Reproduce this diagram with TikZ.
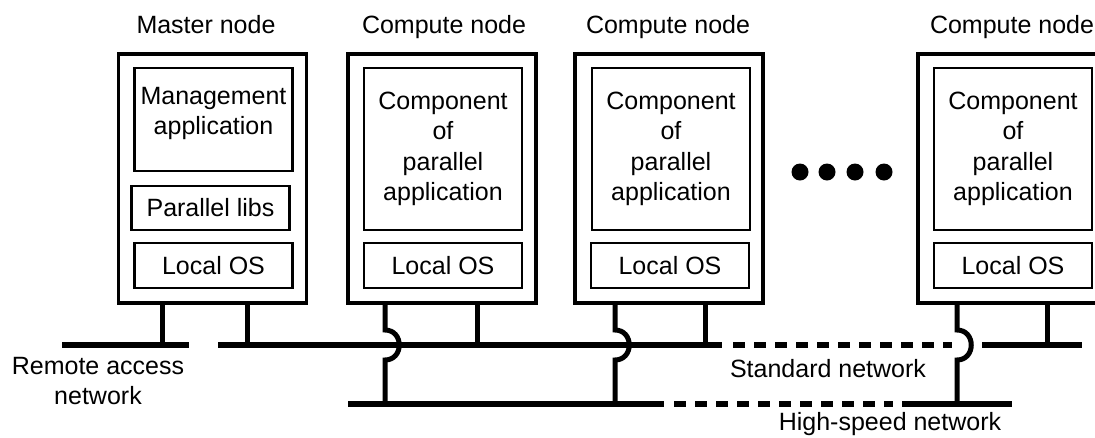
\documentclass[tikz,border=0pt]{standalone}
\usepackage{fontspec}
\setmainfont{Liberation Sans}

\begin{document}
\begin{tikzpicture}[x=1pt, y=-1pt,
		font=\fontsize{25}{30.5}\selectfont,
		machine/.style={draw, line width=3.5pt, minimum width=188pt, minimum height=249pt, inner sep=0pt},
		inbox/.style={draw, line width=2.5pt, minimum width=158pt, inner sep=0pt, align=center},
		toplbl/.style={anchor=base},
		net/.style={line width=6pt},
		dashnet/.style={line width=6pt, dash pattern=on 12pt off 9pt},
		stub/.style={line width=5pt},
		bigdot/.style={circle, fill, inner sep=0pt, minimum size=17pt}
		]
	\useasboundingbox (0,0) rectangle (1095,437);
	% the four machines
	\node [machine] (m) at (212.5,178.5) {};
	\node [machine] (c1) at (442,178.5) {};
	\node [machine] (c2) at (669,178.5) {};
	\node [machine] (c3) at (1012,178.5) {};
	\node [toplbl] (mlbl) at (206,33) {Master node};
	\node [toplbl] (c1lbl) at (444,33) {Compute node};
	\node [toplbl] (c2lbl) at (668,33) {Compute node};
	\node [toplbl] (c3lbl) at (1012,33) {Compute node};
	% master node layers
	\node [inbox, minimum height=103pt] (mgmt) at (213.5,119.5) {};
	\node [align=center] (mgmtlbl) at (213.5,113.5) {Management\\application};
	\node [inbox, minimum height=44pt] (libs) at (210.5,208) {Parallel libs};
	\node [inbox, minimum height=45pt] (mos) at (213.5,265.5) {Local OS};
	% compute node layers
	\node [inbox, minimum height=162pt] (c1app) at (443,149) {Component\\of\\parallel\\application};
	\node [inbox, minimum height=45pt] (c1os) at (443,265.5) {Local OS};
	\node [inbox, minimum height=162pt] (c2app) at (671,149) {Component\\of\\parallel\\application};
	\node [inbox, minimum height=45pt] (c2os) at (670,265.5) {Local OS};
	\node [inbox, minimum height=162pt] (c3app) at (1013,149) {Component\\of\\parallel\\application};
	\node [inbox, minimum height=45pt] (c3os) at (1013,265.5) {Local OS};
	\node [bigdot] (d1) at (800,172) {};
	\node [bigdot] (d2) at (827,172) {};
	\node [bigdot] (d3) at (855,172) {};
	\node [bigdot] (d4) at (884,172) {};
	% networks
	\draw [net] (62,345) coordinate (ra) -- (189,345);
	\draw [net] (218,345) coordinate (std) -- (722,345);
	\draw [dashnet] (733,345) -- (952,345);
	\draw [net] (982,345) -- (1082,345);
	\draw [net] (348,404) coordinate (fast) -- (664,404);
	\draw [dashnet] (674,404) -- (893,404);
	\draw [net] (902,404) -- (1012,404);
	\node [align=center] (ralbl) at (98,381) {Remote access\\network};
	\node [anchor=base] (stdlbl) at (828,377) {Standard network};
	\node [anchor=base] (fastlbl) at (890,430) {High-speed network};
	% stubs
	\draw [stub] ([xshift=-50pt]m.south) -- ([xshift=-50pt]m.south |- ra);
	\draw [stub] ([xshift=35pt]m.south) -- ([xshift=35pt]m.south |- std);
	\draw [stub] ([xshift=35pt]c1.south) -- ([xshift=35pt]c1.south |- std);
	\draw [stub] ([xshift=36pt]c2.south) -- ([xshift=36pt]c2.south |- std);
	\draw [stub] ([xshift=35pt]c3.south) -- ([xshift=35pt]c3.south |- std);
	\draw [stub] ([xshift=-57pt]c1.south) -- ([xshift=-57pt,yshift=15pt]c1.south |- std)
		.. controls +(19,0) and +(19,0) .. ([xshift=-57pt,yshift=-15pt]c1.south |- std)
		-- ([xshift=-57pt]c1.south |- fast);
	\draw [stub] ([xshift=-54pt]c2.south) -- ([xshift=-54pt,yshift=15pt]c2.south |- std)
		.. controls +(19,0) and +(19,0) .. ([xshift=-54pt,yshift=-15pt]c2.south |- std)
		-- ([xshift=-54pt]c2.south |- fast);
	\draw [stub] ([xshift=-55pt]c3.south) -- ([xshift=-55pt,yshift=15pt]c3.south |- std)
		.. controls +(19,0) and +(19,0) .. ([xshift=-55pt,yshift=-15pt]c3.south |- std)
		-- ([xshift=-55pt]c3.south |- fast);
\end{tikzpicture}
\end{document}
